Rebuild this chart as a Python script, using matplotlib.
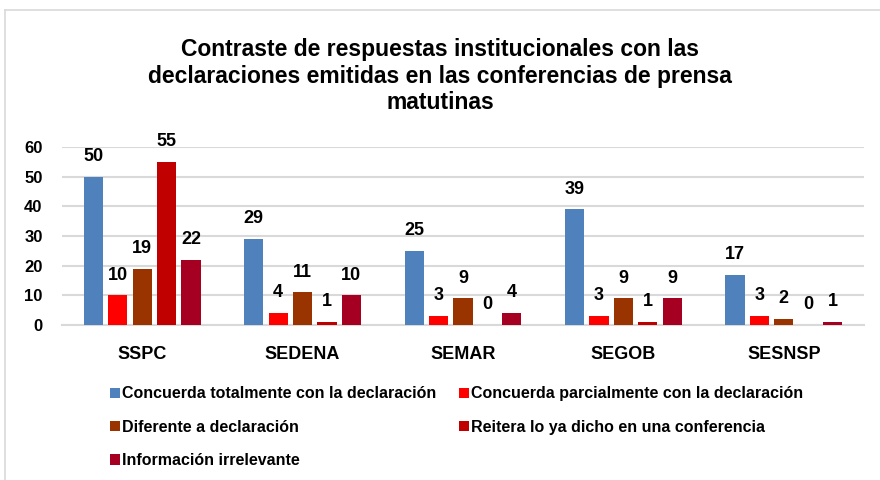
import matplotlib.pyplot as plt
from matplotlib.lines import Line2D
import numpy as np

plt.rcParams['font.family'] = ['Liberation Sans', 'DejaVu Sans']

categories = ['SSPC', 'SEDENA', 'SEMAR', 'SEGOB', 'SESNSP']
series_names = ['Concuerda totalmente con la declaración',
                'Concuerda parcialmente con la declaración',
                'Diferente a declaración',
                'Reitera lo ya dicho en una conferencia',
                'Información irrelevante']
totalmente = [50, 29, 25, 39, 17]
parcialmente = [10, 4, 3, 3, 3]
diferente = [19, 11, 9, 9, 2]
reitera = [55, 1, 0, 1, 0]
irrelevante = [22, 10, 4, 9, 1]
series = [totalmente, parcialmente, diferente, reitera, irrelevante]
colors = ['#4F81BD', '#FF0000', '#993300', '#C00000', '#A50021']

fig = plt.figure(figsize=(8.8, 4.8), dpi=100)
ax = fig.add_axes([62 / 880, 1 - 325 / 480, 802 / 880, 178 / 480])

# chart frame
fig.add_artist(Line2D([5 / 880, 5 / 880], [0, 1 - 10 / 480], color='#D9D9D9', lw=1.2))
fig.add_artist(Line2D([5 / 880, 1], [1 - 10 / 480, 1 - 10 / 480], color='#D9D9D9', lw=1.2))

x = np.arange(len(categories))
step = 0.152
width = 0.12
bars = []
for i, (vals, c) in enumerate(zip(series, colors)):
    pos = x + (i - 2) * step
    b = ax.bar(pos, vals, width=width, color=c, zorder=3)
    bars.append(b)
    for p, v in zip(pos, vals):
        ax.text(p, v + 6.8, str(v), ha='center', va='center', fontsize=13,
                fontweight='bold', clip_on=False)

ax.set_xlim(-0.5, 4.5)
ax.set_ylim(0, 60)
ax.set_yticks(range(0, 61, 10))
ax.set_xticks(x)
ax.set_xticklabels(categories, fontsize=13, fontweight='bold')
for lbl in ax.get_yticklabels():
    lbl.set_fontsize(12)
    lbl.set_fontweight('bold')
ax.tick_params(length=0, pad=15)
ax.tick_params(axis='y', pad=14)
ax.grid(axis='y', color='#D9D9D9', lw=1.5, zorder=0)
for s in ['top', 'right', 'left']:
    ax.spines[s].set_visible(False)
ax.spines['bottom'].set_color('#D9D9D9')
ax.spines['bottom'].set_linewidth(1.5)

fig.text(0.5, 1 - 76 / 480, 'Contraste de respuestas institucionales con las\n'
         'declaraciones emitidas en las conferencias de prensa\nmatutinas',
         ha='center', va='center', fontsize=16.5, fontweight='bold', linespacing=1.22)

order = [0, 2, 4, 1, 3]
fig.legend([bars[i] for i in order], [series_names[i] for i in order],
           ncol=2, loc='upper left', bbox_to_anchor=(96 / 880, 1 - 372 / 480),
           frameon=False, prop={'size': 11.5, 'weight': 'bold'},
           handlelength=0.6, handleheight=0.6, handletextpad=0.12,
           labelspacing=1.15, columnspacing=1.45)

fig.savefig('out.png', dpi=100)
